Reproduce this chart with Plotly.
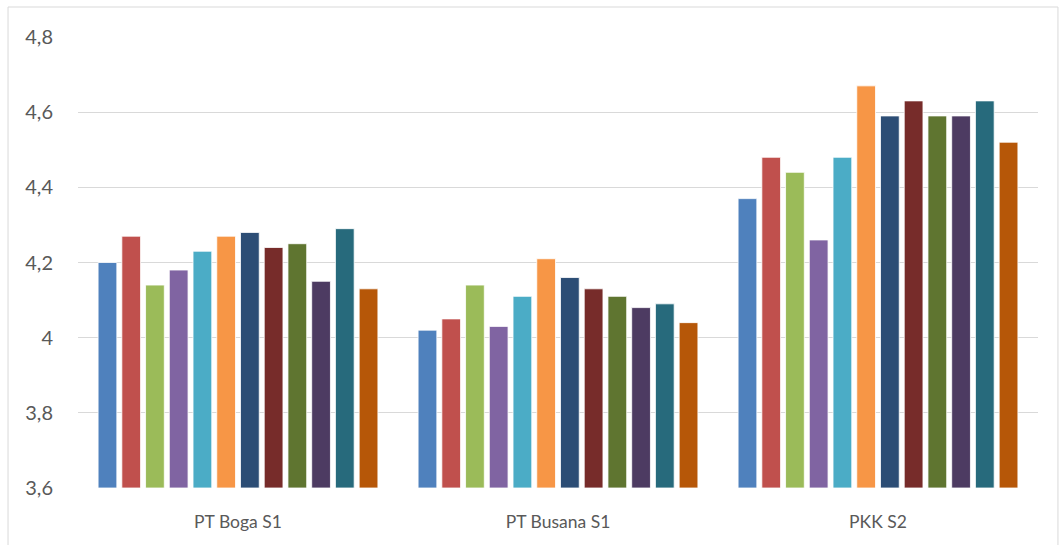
import plotly.graph_objects as go

categories = ["PT Boga S1", "PT Busana S1", "PKK S2"]

series_names = [f"S{i}" for i in range(1, 13)]
series_colors = [
    "#4F81BD", "#C0504D", "#9BBB59", "#8064A2", "#4BACC6", "#F79646",
    "#2C4D75", "#772C2A", "#5F7530", "#4D3B62", "#276A7C", "#B65708",
]

boga_s1 = [4.20, 4.27, 4.14, 4.18, 4.23, 4.27, 4.28, 4.24, 4.25, 4.15, 4.29, 4.13]
busana_s1 = [4.02, 4.05, 4.14, 4.03, 4.11, 4.21, 4.16, 4.13, 4.11, 4.08, 4.09, 4.04]
pkk_s2 = [4.37, 4.48, 4.44, 4.26, 4.48, 4.67, 4.59, 4.63, 4.59, 4.59, 4.63, 4.52]

y_floor = 3.6
y_ticks = [3.6, 3.8, 4.0, 4.2, 4.4, 4.6, 4.8]
y_tick_labels = ["3,6", "3,8", "4", "4,2", "4,4", "4,6", "4,8"]

fig = go.Figure()
for i, name in enumerate(series_names):
    vals = [boga_s1[i], busana_s1[i], pkk_s2[i]]
    fig.add_trace(
        go.Bar(
            x=categories,
            y=[v - y_floor for v in vals],  # bars grow from the axis floor
            base=y_floor,
            name=name,
            marker=dict(color=series_colors[i], line=dict(color="#FFFFFF", width=0.8)),
        )
    )

fig.update_layout(
    width=1059,
    height=545,
    barmode="group",
    bargap=0.11,
    bargroupgap=0.21,
    showlegend=False,
    paper_bgcolor="#FFFFFF",
    plot_bgcolor="#FFFFFF",
    font=dict(family="Lato", color="#595959"),
    margin=dict(l=78, r=21, t=37, b=57),
    xaxis=dict(
        showgrid=False,
        showline=False,
        ticks="outside",
        ticklen=18,
        tickcolor="rgba(0,0,0,0)",
        tickfont=dict(size=17.5),
    ),
    yaxis=dict(
        range=[3.6, 4.8],
        tickvals=y_ticks,
        ticktext=y_tick_labels,
        showgrid=True,
        gridcolor="#D9D9D9",
        gridwidth=1,
        zeroline=False,
        showline=False,
        ticks="outside",
        ticklen=20,
        tickcolor="rgba(0,0,0,0)",
        tickfont=dict(size=20),
    ),
    shapes=[
        dict(
            type="rect",
            xref="paper",
            yref="paper",
            x0=-0.0729,
            x1=1.0208,
            y0=-0.3,
            y1=1.0665,
            line=dict(color="#D9D9D9", width=1),
            fillcolor="rgba(0,0,0,0)",
            layer="below",
        )
    ],
)

fig.write_html(
    "out.html",
    config={"displayModeBar": False},
    post_script="document.body.style.margin='0';",
)
